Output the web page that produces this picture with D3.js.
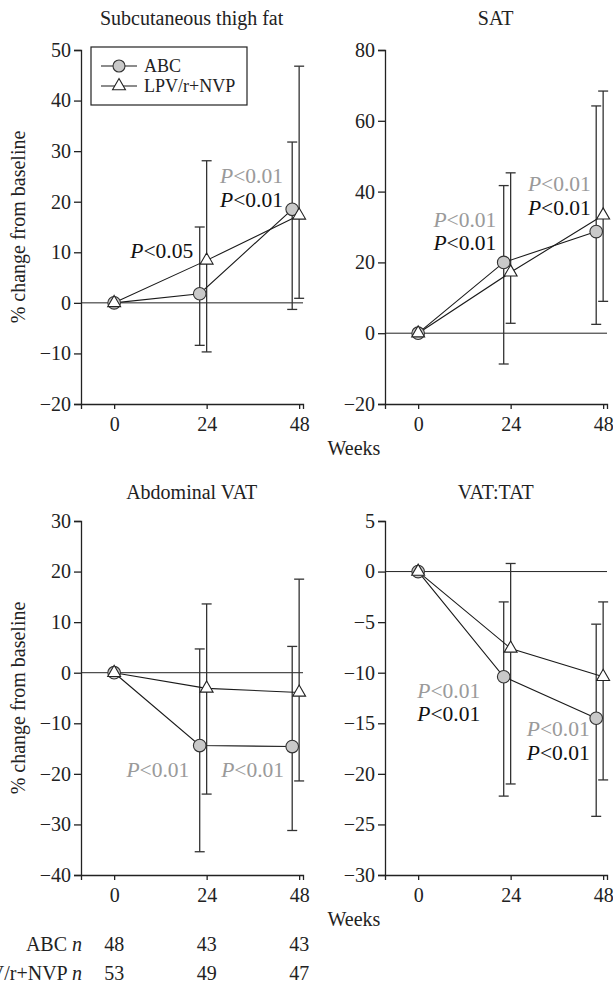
<!DOCTYPE html>
<html>
<head>
<meta charset="utf-8">
<script src="https://cdn.jsdelivr.net/npm/d3@7"></script>
<style>
  html, body { margin: 0; padding: 0; background: #fff; }
  svg { display: block; font-family: "Liberation Serif", "Times New Roman", serif; }
</style>
</head>
<body>
<svg id="chart" width="613" height="984"></svg>
<script>
// ---------------- data ----------------
const weeks = [0, 24, 48];
const seriesNames = ["ABC", "LPV/r+NVP"];
const panelTitles = ["Subcutaneous thigh fat", "SAT", "Abdominal VAT", "VAT:TAT"];
const yTickValues = [
  [-20, -10, 0, 10, 20, 30, 40, 50],
  [-20, 0, 20, 40, 60, 80],
  [-40, -30, -20, -10, 0, 10, 20, 30],
  [-30, -25, -20, -15, -10, -5, 0, 5]
];
const abcMean  = [[0, 1.8, 18.5], [0, 20.0, 28.7], [0, -14.4, -14.6], [0, -10.4, -14.5]];
const abcUpper = [[0, 15.0, 31.8], [0, 41.7, 64.2], [0, 4.7, 5.2], [0, -3.0, -5.2]];
const abcLower = [[0, -8.4, -1.3], [0, -8.7, 2.5], [0, -35.4, -31.2], [0, -22.2, -24.2]];
const lpvMean  = [[0, 8.4, 17.3], [0, 17.2, 33.3], [0, -3.1, -3.9], [0, -7.6, -10.4]];
const lpvUpper = [[0, 28.1, 46.8], [0, 45.3, 68.4], [0, 13.6, 18.5], [0, 0.8, -3.0]];
const lpvLower = [[0, -9.7, 0.9], [0, 2.8, 9.0], [0, -24.0, -21.4], [0, -21.0, -20.6]];
// p-value annotations: panel, anchor week (text end), anchor value (baseline), label, grey?
const pPanel = [0, 0, 0, 1, 1, 1, 1, 2, 2, 3, 3, 3, 3];
const pWeek  = [20.5, 43.8, 43.8, 20.3, 20.3, 44.8, 44.8, 19.5, 44.1, 16.1, 16.1, 44.5, 44.5];
const pValue = [8.85, 23.7, 18.95, 29.9, 23.4, 40.3, 33.5, -20.7, -20.7, -12.5, -14.8, -16.3, -18.6];
const pText  = ["<0.05", "<0.01", "<0.01", "<0.01", "<0.01", "<0.01", "<0.01", "<0.01", "<0.01", "<0.01", "<0.01", "<0.01", "<0.01"];
const pGrey  = [false, true, false, true, false, true, false, true, true, true, false, true, false];
const nLabels = ["ABC", "LPV/r+NVP"];
const nABC = [48, 43, 43];
const nLPV = [53, 49, 47];

// ---------------- layout ----------------
const svg = d3.select("#chart");
const FS = 20;
const colX = [81, 385];
const rowY = [50, 521];
const plotW = 222, plotH = 354;
const dodge = -1.8;
const lineCol = "#1a1a1a", errCol = "#333", greyText = "#9a9a9a";

const yDomains = [[-20, 50], [-20, 80], [-40, 30], [-30, 5]];

panelTitles.forEach((title, i) => {
  const col = i % 2, row = Math.floor(i / 2);
  const x0 = colX[col], y0 = rowY[row];
  const g = svg.append("g").attr("transform", `translate(${x0},${y0})`);
  const x = d3.scaleLinear().domain([-8.6, 49]).range([0, plotW]);
  const y = d3.scaleLinear().domain(yDomains[i]).range([plotH, 0]);

  // title
  g.append("text").attr("x", x(24) - 15).attr("y", row === 0 ? -25 : -22)
    .attr("text-anchor", "middle").attr("font-size", FS).attr("fill", "#222").text(title);

  // axes
  const yAxis = d3.axisLeft(y).tickValues(yTickValues[i]).tickSizeOuter(0).tickSize(7).tickPadding(3)
    .tickFormat(d => d < 0 ? "\u2212" + Math.abs(d) : d);
  const ya = g.append("g").call(yAxis);
  const xAxis = d3.axisBottom(x).tickValues(weeks).tickSizeOuter(0).tickSize(5).tickPadding(8);
  const xa = g.append("g").attr("transform", `translate(0,${plotH})`).call(xAxis);
  [ya, xa].forEach(a => {
    a.attr("font-family", "Liberation Serif, serif");
    a.selectAll("path").attr("stroke", "#222").attr("stroke-width", 1.3);
    a.selectAll("line").attr("stroke", "#222").attr("stroke-width", 1.3);
    a.selectAll("text").attr("font-size", FS).attr("fill", "#222");
  });
  xa.selectAll("text").attr("dy", "0.71em");

  // zero line
  g.append("line").attr("x1", 0).attr("x2", plotW).attr("y1", y(0)).attr("y2", y(0))
    .attr("stroke", "#222").attr("stroke-width", 1);

  // y label
  if (col === 0) {
    g.append("text").attr("transform", `translate(${-56},${plotH / 2}) rotate(-90)`)
      .attr("text-anchor", "middle").attr("font-size", FS).attr("fill", "#222")
      .text("% change from baseline");
  }

  const abcX = w => x(w === 0 ? 0 : w + dodge);
  const lpvX = w => x(w);

  // error bars
  const drawErr = (xs, up, lo) => {
    weeks.forEach((w, k) => {
      if (w === 0) return;
      const cx = xs(w);
      g.append("line").attr("x1", cx).attr("x2", cx).attr("y1", y(up[k])).attr("y2", y(lo[k]))
        .attr("stroke", errCol).attr("stroke-width", 1.3);
      [up[k], lo[k]].forEach(v => {
        g.append("line").attr("x1", cx - 5).attr("x2", cx + 5).attr("y1", y(v)).attr("y2", y(v))
          .attr("stroke", errCol).attr("stroke-width", 1.3);
      });
    });
  };
  drawErr(abcX, abcUpper[i], abcLower[i]);
  drawErr(lpvX, lpvUpper[i], lpvLower[i]);

  // lines
  const lineA = d3.line().x((d, k) => abcX(weeks[k])).y(d => y(d));
  const lineL = d3.line().x((d, k) => lpvX(weeks[k])).y(d => y(d));
  g.append("path").attr("d", lineA(abcMean[i])).attr("fill", "none").attr("stroke", lineCol).attr("stroke-width", 1.1);
  g.append("path").attr("d", lineL(lpvMean[i])).attr("fill", "none").attr("stroke", lineCol).attr("stroke-width", 1.1);

  // markers
  abcMean[i].forEach((v, k) => {
    g.append("circle").attr("cx", abcX(weeks[k])).attr("cy", y(v)).attr("r", 6.3)
      .attr("fill", "#c9c9c9").attr("stroke", "#333").attr("stroke-width", 1.1);
  });
  const tri = d3.symbol().type(d3.symbolTriangle).size(72);
  lpvMean[i].forEach((v, k) => {
    g.append("path").attr("d", tri()).attr("transform", `translate(${lpvX(weeks[k])},${y(v)})`)
      .attr("fill", "#fff").attr("stroke", "#222").attr("stroke-width", 1.1);
  });

  // p labels
  pPanel.forEach((p, j) => {
    if (p !== i) return;
    const t = g.append("text").attr("x", x(pWeek[j])).attr("y", y(pValue[j]))
      .attr("text-anchor", "end").attr("font-size", 21.5).attr("fill", pGrey[j] ? greyText : "#111");
    t.append("tspan").attr("font-style", "italic").text("P");
    t.append("tspan").text(pText[j]);
  });

  // legend
  if (i === 0) {
    const lg = g.append("g");
    lg.append("rect").attr("x", 10).attr("y", -3).attr("width", 156).attr("height", 58)
      .attr("fill", "#fff").attr("stroke", "#222").attr("stroke-width", 1.2);
    seriesNames.forEach((s, k) => {
      const cy = 16 + k * 20;
      lg.append("line").attr("x1", 20).attr("x2", 56).attr("y1", cy).attr("y2", cy)
        .attr("stroke", lineCol).attr("stroke-width", 1.1);
      if (k === 0) {
        lg.append("circle").attr("cx", 38).attr("cy", cy).attr("r", 6)
          .attr("fill", "#c9c9c9").attr("stroke", "#333").attr("stroke-width", 1.1);
      } else {
        lg.append("path").attr("d", tri()).attr("transform", `translate(38,${cy})`)
          .attr("fill", "#fff").attr("stroke", "#222").attr("stroke-width", 1.1);
      }
      lg.append("text").attr("x", 63).attr("y", cy + 6).attr("font-size", 18).attr("fill", "#222").text(s);
    });
  }

  // Weeks label
  if (col === 1) {
    g.append("text").attr("x", -31).attr("y", plotH + 51).attr("text-anchor", "middle")
      .attr("font-size", FS).attr("fill", "#222").text("Weeks");
  }

  // n table
  if (i === 2) {
    [nABC, nLPV].forEach((arr, r) => {
      const by = plotH + 76 + r * 29;
      const t = g.append("text").attr("x", 1).attr("y", by).attr("text-anchor", "end")
        .attr("font-size", FS).attr("fill", "#222");
      t.append("tspan").text(nLabels[r] + " ");
      t.append("tspan").attr("font-style", "italic").text("n");
      arr.forEach((n, k) => {
        g.append("text").attr("x", x(weeks[k])).attr("y", by).attr("text-anchor", "middle")
          .attr("font-size", FS).attr("fill", "#222").text(n);
      });
    });
  }
});
</script>
</body>
</html>
